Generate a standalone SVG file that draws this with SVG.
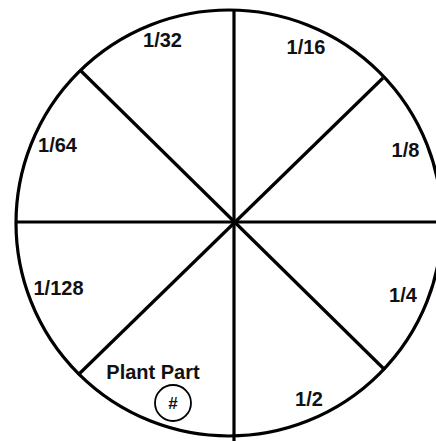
<svg xmlns="http://www.w3.org/2000/svg" width="436" height="441" viewBox="0 0 436 441">
<style>
.ln{stroke:#000;stroke-width:3.2;fill:none;stroke-linecap:butt}
.lbl{font-family:"Liberation Sans",Arial,sans-serif;font-weight:bold;font-size:20px;fill:#111;text-anchor:middle}
</style>
<rect width="436" height="441" fill="#fff"/>
<g id="wheel">
<circle class="ln" cx="229" cy="223" r="213"/>
</g>
<g id="connectors">
<line class="ln" x1="234" y1="10" x2="234" y2="441"/>
<line class="ln" x1="16" y1="222" x2="436" y2="222"/>
<line class="ln" x1="80" y1="70" x2="385" y2="370"/>
<line class="ln" x1="383" y1="78" x2="78" y2="375"/>
</g>
<g id="seg-1-32"><text class="lbl" x="162.5" y="46.5">1/32</text></g>
<g id="seg-1-16"><text class="lbl" x="306" y="53.5">1/16</text></g>
<g id="seg-1-64"><text class="lbl" x="57.5" y="151.5">1/64</text></g>
<g id="seg-1-8"><text class="lbl" x="405.5" y="156.5">1/8</text></g>
<g id="seg-1-128"><text class="lbl" x="58.5" y="294.5">1/128</text></g>
<g id="seg-1-4"><text class="lbl" x="403" y="301.5">1/4</text></g>
<g id="seg-plant"><text class="lbl" x="153" y="378.5">Plant Part</text></g>
<g id="seg-1-2"><text class="lbl" x="309" y="405.5">1/2</text></g>
<g id="badge">
<circle cx="173" cy="403" r="18" fill="none" stroke="#000" stroke-width="1.8"/>
<text x="173" y="409" style="font-family:'Liberation Sans',Arial,sans-serif;font-weight:bold;font-size:17px;text-anchor:middle;fill:#111">#</text>
</g>
</svg>
